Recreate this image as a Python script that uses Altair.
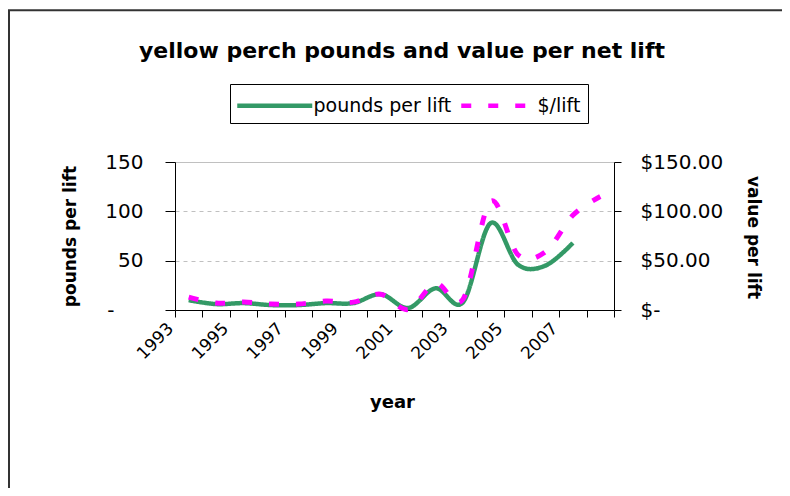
import altair as alt
import pandas as pd

# ---- data ----
years = [1993, 1994, 1995, 1996, 1997, 1998, 1999, 2000,
         2001, 2002, 2003, 2004, 2005, 2006, 2007, 2008]
pounds_per_lift = [10, 6, 7, 5, 5, 7, 7, 16, 2, 22, 8, 88, 46, 45, 68]
dollars_per_lift = [13, 7, 8, 6, 6, 9, 8, 16, 0.5, 27, 11, 110, 56, 59, 96, 115]
series_names = ["pounds per lift", "$/lift"]
series_colors = ["#339966", "#FF00FF"]
series_dashes = [[1, 0], [10, 17]]
y_ticks = [0, 50, 100, 150]
x_label_years = [1993, 1995, 1997, 1999, 2001, 2003, 2005, 2007]

df_p = pd.DataFrame({"year": years[:len(pounds_per_lift)],
                     "value": pounds_per_lift, "series": series_names[0]})
df_d = pd.DataFrame({"year": years[:len(dollars_per_lift)],
                     "value": dollars_per_lift, "series": series_names[1]})

FONT = "DejaVu Sans"

# tick marks sit on category boundaries, labels on category centres
boundaries = [y - 0.5 for y in years] + [years[-1] + 0.5]
x_values = sorted(boundaries + x_label_years)

x_enc = alt.X(
    "year:Q",
    scale=alt.Scale(domain=[years[0] - 0.5, years[-1] + 0.5], nice=False, zero=False),
    axis=alt.Axis(
        title="year",
        values=x_values,
        labelExpr="datum.value % 1 == 0 ? datum.value + '' : ''",
        tickOpacity={"condition": {"test": "datum.value % 1 == 0", "value": 0}, "value": 1},
        labelAngle=-45,
        labelAlign="right",
        labelBaseline="top",
        labelOffset=-24,
        labelPadding=3,
        labelOverlap=False,
        labelFlush=False,
        labelFont=FONT,
        labelFontSize=17,
        labelColor="black",
        tickSize=7,
        tickColor="black",
        domainColor="black",
        grid=False,
        titleFont=FONT,
        titleFontSize=18,
        titleFontWeight="bold",
        titleColor="black",
        titleX=217,
        titleY=92,
        titleBaseline="middle",
    ),
)

legend = alt.Legend(
    orient="none",
    legendX=55,
    legendY=-78,
    direction="horizontal",
    title=None,
    symbolType="M-3.125,0H3.125",
    symbolSize=576,
    symbolStrokeWidth=4.5,
    symbolOffset=23.25,
    labelFont=FONT,
    labelFontSize=19,
    labelColor="black",
    labelOffset=24.25,
    columnPadding=0,
    padding=7,
    strokeColor="black",
)

color_enc = alt.Color(
    "series:N",
    scale=alt.Scale(domain=series_names, range=series_colors),
    legend=legend,
)
dash_enc = alt.StrokeDash(
    "series:N",
    scale=alt.Scale(domain=series_names, range=series_dashes),
    legend=legend,
)

left = alt.Chart(df_p).mark_line(
    interpolate="cardinal", strokeWidth=4.5
).encode(
    x=x_enc,
    y=alt.Y(
        "value:Q",
        scale=alt.Scale(domain=[0, 150], nice=False),
        axis=alt.Axis(
            values=y_ticks,
            title="pounds per lift",
            labelExpr="datum.value == 0 ? '-' : datum.label",
            labelFont=FONT,
            labelFontSize=20,
            labelColor="black",
            labelPadding={"condition": {"test": "datum.value == 0", "value": 51}, "value": 22},
            tickSize=10,
            tickColor="black",
            domainColor="black",
            grid=True,
            gridColor="#c0c0c0",
            gridDash={"condition": {"test": "datum.value == 150", "value": []}, "value": [4, 4]},
            titleFont=FONT,
            titleFontSize=17,
            titleFontWeight="bold",
            titleColor="black",
            titleX=-105,
            titleY=74,
            titleBaseline="middle",
        ),
    ),
    color=color_enc,
    strokeDash=dash_enc,
)

right = alt.Chart(df_d).mark_line(
    interpolate="cardinal", strokeWidth=5
).encode(
    x=x_enc,
    y=alt.Y(
        "value:Q",
        scale=alt.Scale(domain=[0, 150], nice=False),
        axis=alt.Axis(
            orient="right",
            values=y_ticks,
            title="value per lift",
            labelExpr="datum.value == 0 ? '$-' : '$' + format(datum.value, '.2f')",
            labelFont=FONT,
            labelFontSize=20,
            labelColor="black",
            labelPadding=19,
            tickSize=7,
            tickColor="black",
            domainColor="black",
            grid=False,
            titleFont=FONT,
            titleFontSize=17,
            titleFontWeight="bold",
            titleColor="black",
            titleX=138,
            titleY=75,
            titleBaseline="middle",
        ),
    ),
    color=color_enc,
    strokeDash=dash_enc,
)

frame_df = pd.DataFrame({"k": [0]})
frame_top = alt.Chart(frame_df).mark_rule(color="#333333", strokeWidth=2).encode(
    x=alt.value(-167), x2=alt.value(615), y=alt.value(-151.7)
)
frame_left = alt.Chart(frame_df).mark_rule(color="#333333", strokeWidth=2).encode(
    x=alt.value(-166), y=alt.value(-152), y2=alt.value(326)
)

chart = alt.layer(left, right, frame_top, frame_left).resolve_scale(
    y="independent"
).properties(
    width=439,
    height=148,
    title=alt.TitleParams(
        "yellow perch pounds and value per net lift",
        font=FONT,
        fontSize=22,
        fontWeight="bold",
        color="black",
        anchor="middle",
        dx=7.5,
        dy=58,
    ),
    autosize=alt.AutoSizeParams(type="none"),
    padding={"left": 167, "top": 154, "right": 168, "bottom": 178},
).configure_view(strokeWidth=0).configure(background="white")

chart.save("out.html", embed_options={"renderer": "svg", "actions": False})
